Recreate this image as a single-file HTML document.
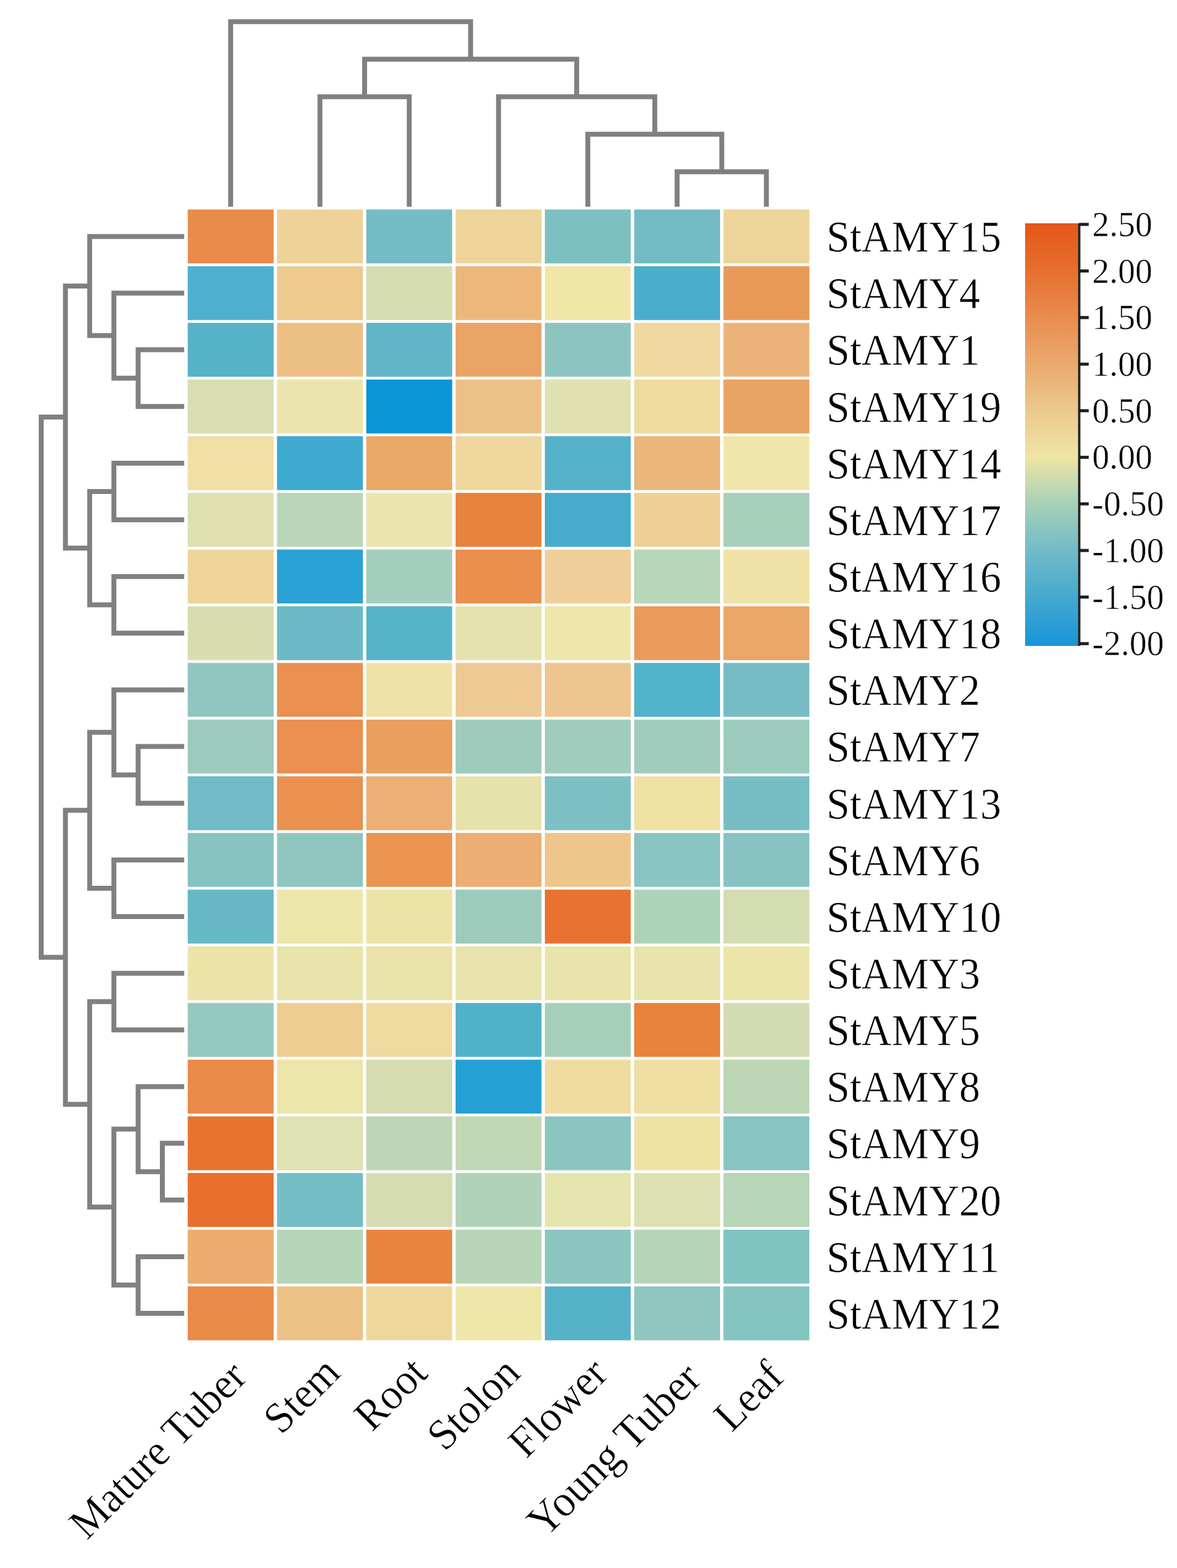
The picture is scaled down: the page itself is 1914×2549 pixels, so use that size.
<!DOCTYPE html>
<html><head><meta charset="utf-8"><title>Heatmap</title>
<style>
html,body{margin:0;padding:0;background:#fff;}
svg{display:block;}
text{font-family:"Liberation Serif","Times New Roman",serif;fill:#000;stroke:#fff;stroke-width:0.6px;}
</style></head><body>
<svg width="1914" height="2549" viewBox="0 0 1914 2549">
<rect x="0" y="0" width="1914" height="2549" fill="#fff"/>
<g id="cells">
<rect x="305.25" y="340.55" width="139.70" height="87.64" fill="#e98c4b"/>
<rect x="450.45" y="340.55" width="139.70" height="87.64" fill="#eed298"/>
<rect x="595.65" y="340.55" width="139.70" height="87.64" fill="#74bcc4"/>
<rect x="740.85" y="340.55" width="139.70" height="87.64" fill="#eed49a"/>
<rect x="886.05" y="340.55" width="139.70" height="87.64" fill="#7dc0c2"/>
<rect x="1031.25" y="340.55" width="139.70" height="87.64" fill="#72bbc5"/>
<rect x="1176.45" y="340.55" width="139.70" height="87.64" fill="#ecd49a"/>
<rect x="305.25" y="432.69" width="139.70" height="87.64" fill="#4eb0cc"/>
<rect x="450.45" y="432.69" width="139.70" height="87.64" fill="#ecca90"/>
<rect x="595.65" y="432.69" width="139.70" height="87.64" fill="#d5dcb0"/>
<rect x="740.85" y="432.69" width="139.70" height="87.64" fill="#ecb87a"/>
<rect x="886.05" y="432.69" width="139.70" height="87.64" fill="#f0e6a8"/>
<rect x="1031.25" y="432.69" width="139.70" height="87.64" fill="#4aaecb"/>
<rect x="1176.45" y="432.69" width="139.70" height="87.64" fill="#e99a58"/>
<rect x="305.25" y="524.83" width="139.70" height="87.64" fill="#56b2c8"/>
<rect x="450.45" y="524.83" width="139.70" height="87.64" fill="#ecbf84"/>
<rect x="595.65" y="524.83" width="139.70" height="87.64" fill="#62b5c7"/>
<rect x="740.85" y="524.83" width="139.70" height="87.64" fill="#eaa566"/>
<rect x="886.05" y="524.83" width="139.70" height="87.64" fill="#8cc5bf"/>
<rect x="1031.25" y="524.83" width="139.70" height="87.64" fill="#efd9a0"/>
<rect x="1176.45" y="524.83" width="139.70" height="87.64" fill="#ebb379"/>
<rect x="305.25" y="616.97" width="139.70" height="87.64" fill="#d8deb2"/>
<rect x="450.45" y="616.97" width="139.70" height="87.64" fill="#ebe5ad"/>
<rect x="595.65" y="616.97" width="139.70" height="87.64" fill="#0a95d8"/>
<rect x="740.85" y="616.97" width="139.70" height="87.64" fill="#ecc187"/>
<rect x="886.05" y="616.97" width="139.70" height="87.64" fill="#dfe2b0"/>
<rect x="1031.25" y="616.97" width="139.70" height="87.64" fill="#efdaa0"/>
<rect x="1176.45" y="616.97" width="139.70" height="87.64" fill="#e9a362"/>
<rect x="305.25" y="709.11" width="139.70" height="87.64" fill="#f0e0a5"/>
<rect x="450.45" y="709.11" width="139.70" height="87.64" fill="#3faad0"/>
<rect x="595.65" y="709.11" width="139.70" height="87.64" fill="#e9a865"/>
<rect x="740.85" y="709.11" width="139.70" height="87.64" fill="#efd79d"/>
<rect x="886.05" y="709.11" width="139.70" height="87.64" fill="#55b1ca"/>
<rect x="1031.25" y="709.11" width="139.70" height="87.64" fill="#ebb67a"/>
<rect x="1176.45" y="709.11" width="139.70" height="87.64" fill="#f0e6ab"/>
<rect x="305.25" y="801.25" width="139.70" height="87.64" fill="#dfe0b0"/>
<rect x="450.45" y="801.25" width="139.70" height="87.64" fill="#b9d6b8"/>
<rect x="595.65" y="801.25" width="139.70" height="87.64" fill="#ebe5ad"/>
<rect x="740.85" y="801.25" width="139.70" height="87.64" fill="#e8833d"/>
<rect x="886.05" y="801.25" width="139.70" height="87.64" fill="#46abcd"/>
<rect x="1031.25" y="801.25" width="139.70" height="87.64" fill="#eecf96"/>
<rect x="1176.45" y="801.25" width="139.70" height="87.64" fill="#a8cfbb"/>
<rect x="305.25" y="893.39" width="139.70" height="87.64" fill="#efd49a"/>
<rect x="450.45" y="893.39" width="139.70" height="87.64" fill="#2aa1d4"/>
<rect x="595.65" y="893.39" width="139.70" height="87.64" fill="#a3cdbd"/>
<rect x="740.85" y="893.39" width="139.70" height="87.64" fill="#ea8f4e"/>
<rect x="886.05" y="893.39" width="139.70" height="87.64" fill="#efd09a"/>
<rect x="1031.25" y="893.39" width="139.70" height="87.64" fill="#b8d6b8"/>
<rect x="1176.45" y="893.39" width="139.70" height="87.64" fill="#f0e2a6"/>
<rect x="305.25" y="985.53" width="139.70" height="87.64" fill="#d8ddb0"/>
<rect x="450.45" y="985.53" width="139.70" height="87.64" fill="#6bb9c6"/>
<rect x="595.65" y="985.53" width="139.70" height="87.64" fill="#56b4ca"/>
<rect x="740.85" y="985.53" width="139.70" height="87.64" fill="#e5e2ae"/>
<rect x="886.05" y="985.53" width="139.70" height="87.64" fill="#efe6aa"/>
<rect x="1031.25" y="985.53" width="139.70" height="87.64" fill="#ea9a5a"/>
<rect x="1176.45" y="985.53" width="139.70" height="87.64" fill="#eba668"/>
<rect x="305.25" y="1077.67" width="139.70" height="87.64" fill="#90c6c0"/>
<rect x="450.45" y="1077.67" width="139.70" height="87.64" fill="#ea9050"/>
<rect x="595.65" y="1077.67" width="139.70" height="87.64" fill="#f0e2a6"/>
<rect x="740.85" y="1077.67" width="139.70" height="87.64" fill="#eec994"/>
<rect x="886.05" y="1077.67" width="139.70" height="87.64" fill="#eec58e"/>
<rect x="1031.25" y="1077.67" width="139.70" height="87.64" fill="#52b2ca"/>
<rect x="1176.45" y="1077.67" width="139.70" height="87.64" fill="#75bcc5"/>
<rect x="305.25" y="1169.81" width="139.70" height="87.64" fill="#9acbbd"/>
<rect x="450.45" y="1169.81" width="139.70" height="87.64" fill="#ea9050"/>
<rect x="595.65" y="1169.81" width="139.70" height="87.64" fill="#eb9f5f"/>
<rect x="740.85" y="1169.81" width="139.70" height="87.64" fill="#9fcbbd"/>
<rect x="886.05" y="1169.81" width="139.70" height="87.64" fill="#a0ccbd"/>
<rect x="1031.25" y="1169.81" width="139.70" height="87.64" fill="#a0ccbd"/>
<rect x="1176.45" y="1169.81" width="139.70" height="87.64" fill="#9acbbd"/>
<rect x="305.25" y="1261.95" width="139.70" height="87.64" fill="#70bbc5"/>
<rect x="450.45" y="1261.95" width="139.70" height="87.64" fill="#ea9150"/>
<rect x="595.65" y="1261.95" width="139.70" height="87.64" fill="#ecb075"/>
<rect x="740.85" y="1261.95" width="139.70" height="87.64" fill="#e6e2ac"/>
<rect x="886.05" y="1261.95" width="139.70" height="87.64" fill="#7dc0c4"/>
<rect x="1031.25" y="1261.95" width="139.70" height="87.64" fill="#efe0a4"/>
<rect x="1176.45" y="1261.95" width="139.70" height="87.64" fill="#77bec4"/>
<rect x="305.25" y="1354.09" width="139.70" height="87.64" fill="#86c3c1"/>
<rect x="450.45" y="1354.09" width="139.70" height="87.64" fill="#8fc6c0"/>
<rect x="595.65" y="1354.09" width="139.70" height="87.64" fill="#ea9652"/>
<rect x="740.85" y="1354.09" width="139.70" height="87.64" fill="#ecae72"/>
<rect x="886.05" y="1354.09" width="139.70" height="87.64" fill="#eec68c"/>
<rect x="1031.25" y="1354.09" width="139.70" height="87.64" fill="#88c4c1"/>
<rect x="1176.45" y="1354.09" width="139.70" height="87.64" fill="#86c3c2"/>
<rect x="305.25" y="1446.23" width="139.70" height="87.64" fill="#67b8c7"/>
<rect x="450.45" y="1446.23" width="139.70" height="87.64" fill="#ede6ab"/>
<rect x="595.65" y="1446.23" width="139.70" height="87.64" fill="#eee3a7"/>
<rect x="740.85" y="1446.23" width="139.70" height="87.64" fill="#9dcbbb"/>
<rect x="886.05" y="1446.23" width="139.70" height="87.64" fill="#e87331"/>
<rect x="1031.25" y="1446.23" width="139.70" height="87.64" fill="#aed2b8"/>
<rect x="1176.45" y="1446.23" width="139.70" height="87.64" fill="#d4dcb2"/>
<rect x="305.25" y="1538.37" width="139.70" height="87.64" fill="#ece3a8"/>
<rect x="450.45" y="1538.37" width="139.70" height="87.64" fill="#e9e4ab"/>
<rect x="595.65" y="1538.37" width="139.70" height="87.64" fill="#e9e3aa"/>
<rect x="740.85" y="1538.37" width="139.70" height="87.64" fill="#e8e3ac"/>
<rect x="886.05" y="1538.37" width="139.70" height="87.64" fill="#e9e4ab"/>
<rect x="1031.25" y="1538.37" width="139.70" height="87.64" fill="#e9e4ab"/>
<rect x="1176.45" y="1538.37" width="139.70" height="87.64" fill="#ebe5a9"/>
<rect x="305.25" y="1630.51" width="139.70" height="87.64" fill="#94c9be"/>
<rect x="450.45" y="1630.51" width="139.70" height="87.64" fill="#eecd92"/>
<rect x="595.65" y="1630.51" width="139.70" height="87.64" fill="#efdba0"/>
<rect x="740.85" y="1630.51" width="139.70" height="87.64" fill="#50b1c9"/>
<rect x="886.05" y="1630.51" width="139.70" height="87.64" fill="#a6cfba"/>
<rect x="1031.25" y="1630.51" width="139.70" height="87.64" fill="#e8823c"/>
<rect x="1176.45" y="1630.51" width="139.70" height="87.64" fill="#d2dbb2"/>
<rect x="305.25" y="1722.65" width="139.70" height="87.64" fill="#ea8a48"/>
<rect x="450.45" y="1722.65" width="139.70" height="87.64" fill="#ede6aa"/>
<rect x="595.65" y="1722.65" width="139.70" height="87.64" fill="#d5dcb0"/>
<rect x="740.85" y="1722.65" width="139.70" height="87.64" fill="#26a0d4"/>
<rect x="886.05" y="1722.65" width="139.70" height="87.64" fill="#f0dca0"/>
<rect x="1031.25" y="1722.65" width="139.70" height="87.64" fill="#f0dea2"/>
<rect x="1176.45" y="1722.65" width="139.70" height="87.64" fill="#bcd6b6"/>
<rect x="305.25" y="1814.79" width="139.70" height="87.64" fill="#e8732f"/>
<rect x="450.45" y="1814.79" width="139.70" height="87.64" fill="#dfe2b2"/>
<rect x="595.65" y="1814.79" width="139.70" height="87.64" fill="#bcd6b6"/>
<rect x="740.85" y="1814.79" width="139.70" height="87.64" fill="#c1d8b4"/>
<rect x="886.05" y="1814.79" width="139.70" height="87.64" fill="#8ac5c0"/>
<rect x="1031.25" y="1814.79" width="139.70" height="87.64" fill="#f0e2a4"/>
<rect x="1176.45" y="1814.79" width="139.70" height="87.64" fill="#87c4c2"/>
<rect x="305.25" y="1906.93" width="139.70" height="87.64" fill="#e8702c"/>
<rect x="450.45" y="1906.93" width="139.70" height="87.64" fill="#73bdc5"/>
<rect x="595.65" y="1906.93" width="139.70" height="87.64" fill="#d6dcb2"/>
<rect x="740.85" y="1906.93" width="139.70" height="87.64" fill="#b0d2b8"/>
<rect x="886.05" y="1906.93" width="139.70" height="87.64" fill="#e6e4ae"/>
<rect x="1031.25" y="1906.93" width="139.70" height="87.64" fill="#dde0b0"/>
<rect x="1176.45" y="1906.93" width="139.70" height="87.64" fill="#b7d5b7"/>
<rect x="305.25" y="1999.07" width="139.70" height="87.64" fill="#ebac6e"/>
<rect x="450.45" y="1999.07" width="139.70" height="87.64" fill="#b5d5b7"/>
<rect x="595.65" y="1999.07" width="139.70" height="87.64" fill="#e9843f"/>
<rect x="740.85" y="1999.07" width="139.70" height="87.64" fill="#b7d5b6"/>
<rect x="886.05" y="1999.07" width="139.70" height="87.64" fill="#8ac5c0"/>
<rect x="1031.25" y="1999.07" width="139.70" height="87.64" fill="#b5d4b7"/>
<rect x="1176.45" y="1999.07" width="139.70" height="87.64" fill="#80c4c1"/>
<rect x="305.25" y="2091.21" width="139.70" height="87.64" fill="#ea8a48"/>
<rect x="450.45" y="2091.21" width="139.70" height="87.64" fill="#ecc286"/>
<rect x="595.65" y="2091.21" width="139.70" height="87.64" fill="#efd79c"/>
<rect x="740.85" y="2091.21" width="139.70" height="87.64" fill="#efe6aa"/>
<rect x="886.05" y="2091.21" width="139.70" height="87.64" fill="#55b2c9"/>
<rect x="1031.25" y="2091.21" width="139.70" height="87.64" fill="#8fc6c0"/>
<rect x="1176.45" y="2091.21" width="139.70" height="87.64" fill="#84c5c1"/>
</g>
<g fill="none" stroke="#808080" stroke-width="8" stroke-linejoin="miter" stroke-linecap="butt">
<path d="M1101.1,336.0V279.3H1246.3V336.0"/>
<path d="M955.9,336.0V218.3H1173.7V279.3"/>
<path d="M810.7,336.0V157.3H1064.8V218.3"/>
<path d="M520.3,336.0V157.3H665.5V336.0"/>
<path d="M592.9,157.3V96.3H937.8V157.3"/>
<path d="M375.1,336.0V35.3H765.3V96.3"/>
<path d="M299.5,568.6H224.6V660.8H299.5"/>
<path d="M299.5,476.5H185.2V614.7H224.6"/>
<path d="M299.5,384.4H145.8V545.6H185.2"/>
<path d="M299.5,752.9H185.2V845.1H299.5"/>
<path d="M299.5,937.2H185.2V1029.3H299.5"/>
<path d="M185.2,799.0H145.8V983.3H185.2"/>
<path d="M145.8,465.0H106.4V891.1H145.8"/>
<path d="M299.5,1213.6H224.6V1305.8H299.5"/>
<path d="M299.5,1121.5H185.2V1259.7H224.6"/>
<path d="M299.5,1397.9H185.2V1490.0H299.5"/>
<path d="M185.2,1190.6H145.8V1444.0H185.2"/>
<path d="M299.5,1582.2H185.2V1674.3H299.5"/>
<path d="M299.5,1858.6H264.0V1950.8H299.5"/>
<path d="M299.5,1766.5H224.6V1904.7H264.0"/>
<path d="M299.5,2042.9H224.6V2135.0H299.5"/>
<path d="M224.6,1835.6H185.2V2089.0H224.6"/>
<path d="M185.2,1628.3H145.8V1962.3H185.2"/>
<path d="M145.8,1317.3H106.4V1795.3H145.8"/>
<path d="M106.4,678.1H67.0V1556.3H106.4"/>
</g>
<g font-size="71">
<text transform="translate(1344,409.2) scale(0.96,1)">StAMY15</text>
<text transform="translate(1344,501.3) scale(0.96,1)">StAMY4</text>
<text transform="translate(1344,593.4) scale(0.96,1)">StAMY1</text>
<text transform="translate(1344,685.6) scale(0.96,1)">StAMY19</text>
<text transform="translate(1344,777.7) scale(0.96,1)">StAMY14</text>
<text transform="translate(1344,869.9) scale(0.96,1)">StAMY17</text>
<text transform="translate(1344,962.0) scale(0.96,1)">StAMY16</text>
<text transform="translate(1344,1054.1) scale(0.96,1)">StAMY18</text>
<text transform="translate(1344,1146.3) scale(0.96,1)">StAMY2</text>
<text transform="translate(1344,1238.4) scale(0.96,1)">StAMY7</text>
<text transform="translate(1344,1330.6) scale(0.96,1)">StAMY13</text>
<text transform="translate(1344,1422.7) scale(0.96,1)">StAMY6</text>
<text transform="translate(1344,1514.8) scale(0.96,1)">StAMY10</text>
<text transform="translate(1344,1607.0) scale(0.96,1)">StAMY3</text>
<text transform="translate(1344,1699.1) scale(0.96,1)">StAMY5</text>
<text transform="translate(1344,1791.3) scale(0.96,1)">StAMY8</text>
<text transform="translate(1344,1883.4) scale(0.96,1)">StAMY9</text>
<text transform="translate(1344,1975.5) scale(0.96,1)">StAMY20</text>
<text transform="translate(1344,2067.7) scale(0.96,1)">StAMY11</text>
<text transform="translate(1344,2159.8) scale(0.96,1)">StAMY12</text>
</g>
<g font-size="71" text-anchor="end">
<text class="cl" transform="translate(404.9,2241.4) rotate(-45) scale(0.9600,1)">Mature Tuber</text>
<text class="cl" transform="translate(556.4,2235.0) rotate(-45) scale(0.9600,1)">Stem</text>
<text class="cl" transform="translate(698.4,2235.5) rotate(-45) scale(0.9600,1)">Root</text>
<text class="cl" transform="translate(849.0,2235.4) rotate(-45) scale(0.9600,1)">Stolon</text>
<text class="cl" transform="translate(991.9,2236.6) rotate(-45) scale(0.9600,1)">Flower</text>
<text class="cl" transform="translate(1143.8,2244.7) rotate(-45) scale(0.9840,1.025)">Young Tuber</text>
<text class="cl" transform="translate(1278.0,2241.8) rotate(-45) scale(0.9600,1)">Leaf</text>
</g>
<defs><linearGradient id="cb" x1="0" y1="0" x2="0" y2="1">
<stop offset="0.0026" stop-color="#e4571a"/>
<stop offset="0.1128" stop-color="#e66f2d"/>
<stop offset="0.2231" stop-color="#e88d4f"/>
<stop offset="0.3333" stop-color="#eaa96c"/>
<stop offset="0.4435" stop-color="#ecc98d"/>
<stop offset="0.5537" stop-color="#eee5a5"/>
<stop offset="0.6639" stop-color="#a7d0b7"/>
<stop offset="0.7742" stop-color="#72bbc7"/>
<stop offset="0.8844" stop-color="#45a9cf"/>
<stop offset="0.9946" stop-color="#1b95d9"/>
</linearGradient></defs>
<rect x="1667" y="363" width="86" height="687" fill="url(#cb)"/>
<rect x="1753" y="363" width="4" height="687" fill="#2e2e2e"/>
<rect x="1755" y="362.3" width="15.5" height="5" fill="#1e1e1e"/>
<text x="1776" y="383.8" font-size="56">2.50</text>
<rect x="1755" y="438.0" width="15.5" height="5" fill="#1e1e1e"/>
<text x="1776" y="459.5" font-size="56">2.00</text>
<rect x="1755" y="513.7" width="15.5" height="5" fill="#1e1e1e"/>
<text x="1776" y="535.2" font-size="56">1.50</text>
<rect x="1755" y="589.5" width="15.5" height="5" fill="#1e1e1e"/>
<text x="1776" y="611.0" font-size="56">1.00</text>
<rect x="1755" y="665.2" width="15.5" height="5" fill="#1e1e1e"/>
<text x="1776" y="686.7" font-size="56">0.50</text>
<rect x="1755" y="740.9" width="15.5" height="5" fill="#1e1e1e"/>
<text x="1776" y="762.4" font-size="56">0.00</text>
<rect x="1755" y="816.6" width="15.5" height="5" fill="#1e1e1e"/>
<text x="1776" y="838.1" font-size="56">-0.50</text>
<rect x="1755" y="892.4" width="15.5" height="5" fill="#1e1e1e"/>
<text x="1776" y="913.9" font-size="56">-1.00</text>
<rect x="1755" y="968.1" width="15.5" height="5" fill="#1e1e1e"/>
<text x="1776" y="989.6" font-size="56">-1.50</text>
<rect x="1755" y="1043.8" width="15.5" height="5" fill="#1e1e1e"/>
<text x="1776" y="1065.3" font-size="56">-2.00</text>
</svg>
</body></html>
